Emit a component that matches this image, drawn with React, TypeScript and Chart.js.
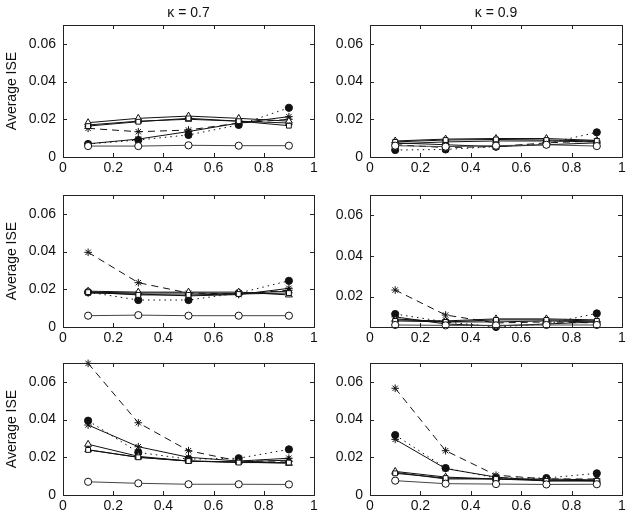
import React, { useEffect, useRef } from "react";
import { Chart, registerables } from "chart.js";

Chart.register(...registerables);

// ---------- data ----------
const xValues = [0.1, 0.3, 0.5, 0.7, 0.9];
const xTicks = [0, 0.2, 0.4, 0.6, 0.8, 1];
const yTicks = [0, 0.02, 0.04, 0.06];
const columnTitles = ["\u03ba = 0.7", "\u03ba = 0.9"];
const yAxisTitle = "Average ISE";
const yMaxValue = 0.07;
// panel order: row1 κ0.7, row1 κ0.9, row2 κ0.7, row2 κ0.9, row3 κ0.7, row3 κ0.9
const yMinByPanel = [0, 0, 0, 0.005, 0, 0];

const openCircle = [
  [0.0058, 0.0058, 0.0062, 0.006, 0.006],
  [0.006, 0.0055, 0.006, 0.0065, 0.0058],
  [0.006, 0.0063, 0.006, 0.006, 0.006],
  [0.006, 0.0058, 0.0058, 0.006, 0.006],
  [0.007, 0.0062, 0.0057, 0.0057, 0.0056],
  [0.0076, 0.006, 0.0058, 0.0056, 0.0057],
];
const openSquare = [
  [0.0164, 0.0187, 0.0205, 0.019, 0.0166],
  [0.008, 0.009, 0.0093, 0.009, 0.0085],
  [0.0185, 0.017, 0.017, 0.0175, 0.018],
  [0.008, 0.0075, 0.0085, 0.0085, 0.008],
  [0.0239, 0.02, 0.018, 0.0172, 0.0172],
  [0.0115, 0.009, 0.0085, 0.0075, 0.0075],
];
const openTriangle = [
  [0.0182, 0.0205, 0.0217, 0.0205, 0.019],
  [0.0085, 0.0095, 0.0098, 0.0098, 0.0088],
  [0.019, 0.0185, 0.0185, 0.0185, 0.017],
  [0.0085, 0.008, 0.009, 0.009, 0.0085],
  [0.0269, 0.0205, 0.018, 0.0175, 0.0168],
  [0.0125, 0.0095, 0.0085, 0.008, 0.0075],
];
const filledTriangle = [
  [0.017, 0.019, 0.02, 0.019, 0.018],
  [0.007, 0.008, 0.0085, 0.0085, 0.008],
  [0.0185, 0.018, 0.018, 0.0178, 0.019],
  [0.009, 0.0075, 0.0075, 0.008, 0.0075],
  [0.024, 0.02, 0.018, 0.0175, 0.0185],
  [0.012, 0.0085, 0.0085, 0.0085, 0.008],
];
const starSolid = [
  [0.007, 0.0095, 0.0135, 0.018, 0.0214],
  [0.0075, 0.0065, 0.0055, 0.0065, 0.0075],
  [0.018, 0.0175, 0.0165, 0.0172, 0.0205],
  [0.01, 0.0065, 0.0055, 0.0065, 0.0075],
  [0.0371, 0.0256, 0.02, 0.018, 0.0195],
  [0.0295, 0.014, 0.0095, 0.0075, 0.0075],
];
const starDashed = [
  [0.0152, 0.0134, 0.0143, 0.018, 0.02],
  [0.0065, 0.005, 0.0055, 0.0075, 0.0085],
  [0.0396, 0.0235, 0.018, 0.0175, 0.0195],
  [0.0232, 0.0109, 0.007, 0.0075, 0.007],
  [0.0698, 0.0383, 0.0235, 0.018, 0.018],
  [0.0566, 0.0235, 0.0105, 0.0085, 0.0085],
];
const filledCircleDotted = [
  [0.0069, 0.009, 0.0117, 0.017, 0.0261],
  [0.0037, 0.004, 0.0055, 0.007, 0.0131],
  [0.0185, 0.0143, 0.0143, 0.018, 0.0245],
  [0.0114, 0.0075, 0.005, 0.0065, 0.0117],
  [0.0394, 0.0226, 0.019, 0.0195, 0.0242],
  [0.0318, 0.0143, 0.009, 0.009, 0.0115],
];

// ---------- styling ----------
const FONT = { family: "'Liberation Sans', Arial, Helvetica, sans-serif", size: 14 };
const INK = "#111";

type SeriesDef = {
  name: string;
  values: number[][];
  pointStyle: string;
  filled: boolean;
  dash: number[];
  color: string;
  radius: number;
};

const seriesDefs: SeriesDef[] = [
  { name: "open circle", values: openCircle, pointStyle: "circle", filled: false, dash: [], color: "#444", radius: 3.6 },
  { name: "open square", values: openSquare, pointStyle: "rect", filled: false, dash: [], color: INK, radius: 3.4 },
  { name: "open triangle", values: openTriangle, pointStyle: "triangle", filled: false, dash: [], color: INK, radius: 4 },
  { name: "filled triangle", values: filledTriangle, pointStyle: "triangle", filled: true, dash: [], color: INK, radius: 3.8 },
  { name: "star solid", values: starSolid, pointStyle: "star", filled: true, dash: [], color: INK, radius: 3.8 },
  { name: "star dashed", values: starDashed, pointStyle: "star", filled: true, dash: [7, 5], color: INK, radius: 3.8 },
  { name: "filled circle dotted", values: filledCircleDotted, pointStyle: "circle", filled: true, dash: [1.5, 4], color: INK, radius: 3.6 },
];

// layout of the 6 panels
const COLS = [
  { left: 0, width: 325, axisW: 63, padRight: 11 },
  { left: 315, width: 315, axisW: 55, padRight: 8 },
];
const ROWS = [
  { top: 0, height: 175, padTop: 25, axisH: 18 },
  { top: 175, height: 170, padTop: 20, axisH: 18 },
  { top: 345, height: 175, padTop: 18, axisH: 25 },
];

const framePlugin = {
  id: "frameTicks",
  afterDatasetsDraw(chart: any) {
    const { ctx, chartArea: a, scales } = chart;
    const len = 4;
    ctx.save();
    ctx.strokeStyle = "#222";
    ctx.lineWidth = 1;
    ctx.beginPath();
    for (const t of scales.x.ticks) {
      const px = Math.round(scales.x.getPixelForValue(t.value)) + 0.5;
      ctx.moveTo(px, a.bottom);
      ctx.lineTo(px, a.bottom - len);
      ctx.moveTo(px, a.top);
      ctx.lineTo(px, a.top + len);
    }
    for (const t of scales.y.ticks) {
      const py = Math.round(scales.y.getPixelForValue(t.value)) + 0.5;
      ctx.moveTo(a.left, py);
      ctx.lineTo(a.left + len, py);
      ctx.moveTo(a.right, py);
      ctx.lineTo(a.right - len, py);
    }
    ctx.stroke();
    ctx.strokeRect(
      Math.round(a.left) + 0.5,
      Math.round(a.top) + 0.5,
      Math.round(a.right - a.left),
      Math.round(a.bottom - a.top)
    );
    const title = chart.options.plugins.frameTicks?.title;
    if (title) {
      ctx.fillStyle = INK;
      ctx.font = `${FONT.size}px ${FONT.family}`;
      ctx.textAlign = "center";
      ctx.textBaseline = "middle";
      ctx.fillText(title, (a.left + a.right) / 2, 13);
    }
    ctx.restore();
  },
};

function Panel({ index }: { index: number }) {
  const ref = useRef<HTMLCanvasElement | null>(null);
  const row = Math.floor(index / 2);
  const col = index % 2;
  const c = COLS[col];
  const r = ROWS[row];

  useEffect(() => {
    if (!ref.current) return;
    const yMin = yMinByPanel[index];
    const datasets = seriesDefs.map((s) => ({
      label: s.name,
      data: xValues.map((x, i) => ({ x, y: s.values[index][i] })),
      borderColor: s.color,
      borderWidth: 1,
      borderDash: s.dash,
      pointStyle: s.pointStyle,
      pointRadius: s.radius,
      pointBorderColor: INK,
      pointBorderWidth: 1,
      pointBackgroundColor: s.filled ? INK : "#fff",
      fill: false,
      tension: 0,
      clip: 8,
    }));
    const chart = new Chart(ref.current, {
      type: "line",
      data: { datasets } as any,
      plugins: [framePlugin as any],
      options: {
        animation: false,
        responsive: false,
        maintainAspectRatio: false,
        devicePixelRatio: 1,
        layout: { padding: { top: r.padTop, right: c.padRight, left: 0, bottom: 0 } },
        plugins: {
          legend: { display: false },
          tooltip: { enabled: false },
          frameTicks: { title: row === 0 ? columnTitles[col] : "" },
        } as any,
        scales: {
          x: {
            type: "linear",
            min: 0,
            max: 1,
            afterBuildTicks: (s: any) => {
              s.ticks = xTicks.map((v) => ({ value: v }));
            },
            afterFit: (s: any) => {
              s.height = r.axisH;
            },
            grid: { display: false, drawTicks: false },
            border: { display: false },
            ticks: {
              padding: 3,
              color: INK,
              font: FONT,
              maxRotation: 0,
              autoSkip: false,
              callback: (v: any) => String(v),
            },
          },
          y: {
            type: "linear",
            min: yMin,
            max: yMaxValue,
            afterBuildTicks: (s: any) => {
              s.ticks = yTicks.filter((v) => v >= yMin).map((v) => ({ value: v }));
            },
            afterFit: (s: any) => {
              s.width = c.axisW;
            },
            grid: { display: false, drawTicks: false },
            border: { display: false },
            title: {
              display: col === 0,
              text: yAxisTitle,
              color: INK,
              font: FONT,
              padding: { top: 4, bottom: 0 },
            },
            ticks: {
              padding: 7,
              color: INK,
              font: FONT,
              autoSkip: false,
              callback: (v: any) => String(v),
            },
          },
        },
      } as any,
    });
    return () => chart.destroy();
  }, [index]);

  return (
    <canvas
      ref={ref}
      width={c.width}
      height={r.height}
      style={{
        position: "absolute",
        left: c.left,
        top: r.top,
        width: c.width,
        height: r.height,
        display: "block",
      }}
    />
  );
}

export default function App() {
  return (
    <div
      style={{
        position: "absolute",
        left: 0,
        top: 0,
        width: 630,
        height: 520,
        background: "#fff",
        overflow: "hidden",
      }}
    >
      {[0, 1, 2, 3, 4, 5].map((i) => (
        <Panel key={i} index={i} />
      ))}
    </div>
  );
}
